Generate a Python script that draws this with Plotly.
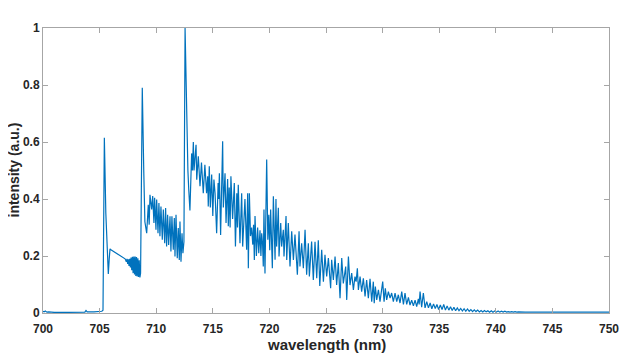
import plotly.graph_objects as go

# wavelength (nm) and normalised intensity
wavelength = [
    700.00, 700.10, 700.20, 700.35, 700.50, 701.00, 702.00, 703.00, 703.70, 703.80,
    703.90, 704.50, 705.20, 705.30, 705.42, 705.55, 705.70, 705.77, 705.85, 705.92,
    706.00, 706.30, 706.60, 706.90, 707.10, 707.25, 707.30, 707.36, 707.42, 707.48,
    707.54, 707.60, 707.66, 707.72, 707.78, 707.84, 707.90, 707.96, 708.02, 708.08,
    708.14, 708.20, 708.26, 708.32, 708.38, 708.44, 708.50, 708.56, 708.62, 708.77,
    708.90, 709.00, 709.16, 709.30, 709.38, 709.45, 709.60, 709.69, 709.80, 709.86,
    709.98, 710.04, 710.16, 710.24, 710.33, 710.42, 710.54, 710.63, 710.75, 710.83,
    710.92, 711.01, 711.10, 711.22, 711.30, 711.39, 711.51, 711.60, 711.66, 711.75,
    711.86, 711.95, 712.04, 712.10, 712.19, 712.28, 712.36, 712.45, 712.55, 712.70,
    712.80, 712.88, 712.98, 713.13, 713.20, 713.28, 713.34, 713.52, 713.58, 713.72,
    713.87, 714.00, 714.16, 714.30, 714.45, 714.55, 714.60, 714.69, 714.78, 714.90,
    715.00, 715.10, 715.20, 715.34, 715.47, 715.52, 715.58, 715.69, 715.87, 715.93,
    716.08, 716.17, 716.31, 716.37, 716.45, 716.53, 716.60, 716.75, 716.90, 717.00,
    717.12, 717.18, 717.25, 717.40, 717.55, 717.64, 717.84, 717.99, 718.08, 718.14,
    718.23, 718.33, 718.43, 718.53, 718.60, 718.67, 718.73, 718.85, 718.96, 719.06,
    719.17, 719.25, 719.32, 719.40, 719.46, 719.52, 719.61, 719.76, 719.86, 719.95,
    720.03, 720.11, 720.26, 720.35, 720.50, 720.58, 720.64, 720.79, 720.85, 721.00,
    721.08, 721.23, 721.29, 721.47, 721.53, 721.67, 721.82, 721.97, 722.12, 722.26,
    722.47, 722.62, 722.70, 722.85, 723.00, 723.15, 723.29, 723.44, 723.53, 723.73,
    723.88, 724.03, 724.18, 724.32, 724.45, 724.62, 724.77, 724.91, 725.06, 725.21,
    725.41, 725.50, 725.65, 725.80, 725.94, 726.09, 726.24, 726.39, 726.53, 726.74,
    726.83, 726.98, 727.12, 727.27, 727.42, 727.56, 727.66, 727.77, 727.86, 728.01,
    728.15, 728.30, 728.45, 728.59, 728.74, 728.89, 729.04, 729.18, 729.26, 729.36,
    729.48, 729.63, 729.77, 730.01, 730.13, 730.24, 730.36, 730.51, 730.66, 730.80,
    730.95, 731.10, 731.25, 731.39, 731.54, 731.69, 731.84, 731.98, 732.13, 732.28,
    732.42, 732.57, 732.72, 732.87, 733.01, 733.16, 733.23, 733.31, 733.45, 733.60,
    733.75, 733.90, 734.05, 734.20, 734.35, 734.50, 734.65, 734.80, 734.95, 735.10,
    735.25, 735.40, 735.55, 735.70, 735.85, 736.00, 736.15, 736.30, 736.45, 736.60,
    736.75, 736.90, 737.05, 737.20, 737.35, 737.50, 737.65, 737.80, 737.95, 738.10,
    738.25, 738.40, 738.55, 738.70, 738.85, 739.00, 739.15, 739.30, 739.45, 739.60,
    739.75, 739.90, 740.05, 740.20, 740.35, 740.50, 740.65, 740.80, 740.95, 741.10,
    741.25, 741.40, 741.55, 741.70, 741.85, 742.00, 742.20, 742.40, 742.60, 743.00,
    745.00, 748.00, 750.00,
]
intensity = [
    0.006, 0.004, 0.007, 0.003, 0.004, 0.002, 0.002, 0.002, 0.003, 0.009,
    0.004, 0.004, 0.006, 0.010, 0.615, 0.350, 0.160, 0.137, 0.190, 0.225,
    0.222, 0.215, 0.207, 0.200, 0.195, 0.190, 0.186, 0.180, 0.190, 0.172,
    0.188, 0.165, 0.190, 0.160, 0.195, 0.150, 0.197, 0.140, 0.198, 0.135,
    0.198, 0.130, 0.196, 0.128, 0.192, 0.126, 0.185, 0.125, 0.140, 0.790,
    0.500, 0.320, 0.280, 0.380, 0.310, 0.415, 0.363, 0.410, 0.316, 0.404,
    0.292, 0.398, 0.280, 0.386, 0.269, 0.374, 0.257, 0.363, 0.245, 0.368,
    0.233, 0.345, 0.239, 0.339, 0.216, 0.339, 0.222, 0.333, 0.198, 0.345,
    0.192, 0.298, 0.186, 0.321, 0.180, 0.280, 0.210, 0.250, 1.000, 0.650,
    0.500, 0.430, 0.360, 0.560, 0.500, 0.600, 0.500, 0.590, 0.468, 0.550,
    0.445, 0.528, 0.420, 0.520, 0.420, 0.480, 0.374, 0.515, 0.370, 0.486,
    0.340, 0.468, 0.420, 0.280, 0.456, 0.400, 0.490, 0.274, 0.603, 0.370,
    0.490, 0.316, 0.470, 0.304, 0.440, 0.300, 0.480, 0.330, 0.456, 0.233,
    0.420, 0.300, 0.450, 0.245, 0.420, 0.233, 0.400, 0.222, 0.420, 0.157,
    0.420, 0.270, 0.300, 0.240, 0.310, 0.186, 0.340, 0.200, 0.300, 0.210,
    0.290, 0.200, 0.280, 0.240, 0.163, 0.363, 0.139, 0.539, 0.257, 0.345,
    0.220, 0.363, 0.157, 0.410, 0.187, 0.400, 0.233, 0.369, 0.198, 0.316,
    0.233, 0.292, 0.198, 0.340, 0.186, 0.316, 0.163, 0.287, 0.186, 0.275,
    0.134, 0.287, 0.163, 0.245, 0.157, 0.292, 0.134, 0.245, 0.128, 0.251,
    0.116, 0.250, 0.122, 0.255, 0.095, 0.222, 0.110, 0.204, 0.128, 0.193,
    0.087, 0.187, 0.116, 0.198, 0.098, 0.175, 0.052, 0.193, 0.104, 0.163,
    0.046, 0.198, 0.098, 0.140, 0.081, 0.128, 0.110, 0.157, 0.081, 0.128,
    0.075, 0.122, 0.058, 0.116, 0.052, 0.120, 0.040, 0.110, 0.034, 0.093,
    0.046, 0.081, 0.040, 0.110, 0.040, 0.087, 0.046, 0.075, 0.052, 0.070,
    0.040, 0.070, 0.040, 0.064, 0.035, 0.075, 0.030, 0.070, 0.030, 0.055,
    0.028, 0.045, 0.025, 0.045, 0.022, 0.050, 0.030, 0.075, 0.020, 0.070,
    0.018, 0.040, 0.018, 0.035, 0.015, 0.032, 0.016, 0.030, 0.012, 0.028,
    0.012, 0.030, 0.010, 0.025, 0.010, 0.022, 0.009, 0.020, 0.008, 0.018,
    0.008, 0.016, 0.007, 0.015, 0.006, 0.014, 0.006, 0.012, 0.005, 0.011,
    0.005, 0.010, 0.004, 0.009, 0.004, 0.009, 0.004, 0.008, 0.003, 0.008,
    0.003, 0.007, 0.003, 0.007, 0.003, 0.006, 0.003, 0.006, 0.003, 0.005,
    0.003, 0.005, 0.003, 0.005, 0.003, 0.004, 0.003, 0.004, 0.003, 0.003,
    0.003, 0.003, 0.003,
]
x_ticks = [700, 705, 710, 715, 720, 725, 730, 735, 740, 745, 750]
y_ticks = [0, 0.2, 0.4, 0.6, 0.8, 1]
y_tick_labels = ["0", "0.2", "0.4", "0.6", "0.8", "1"]
x_title = "wavelength (nm)"
y_title = "intensity (a.u.)"

FONT = "Liberation Sans, Arial, sans-serif"
X_TITLE_FONT = dict(family=FONT, size=15, color="#262626", weight="bold")
Y_TITLE_FONT = dict(family=FONT, size=14, color="#262626", weight="bold")

fig = go.Figure()
fig.add_trace(go.Scatter(
    x=wavelength, y=intensity, mode="lines",
    line=dict(color="#0072BD", width=1.2),
    hoverinfo="skip", showlegend=False,
))

axis_common = dict(
    showgrid=False, zeroline=False, showline=True, mirror="allticks",
    linecolor="#a6a6a6", linewidth=1, ticks="inside", ticklen=5,
    tickcolor="#a6a6a6", tickwidth=1, automargin=False,
    tickfont=dict(family=FONT, size=12, color="#262626", weight="bold"),
)
fig.update_xaxes(range=[700, 750], tickvals=x_ticks, ticklabelstandoff=5,
                 **axis_common)
fig.update_yaxes(range=[0, 1], tickvals=y_ticks, ticktext=y_tick_labels,
                 **axis_common)

# axis titles placed relative to the plot area
fig.add_annotation(text=x_title, xref="paper", yref="paper", x=0.5, y=0,
                   xanchor="center", yanchor="middle", yshift=-31,
                   showarrow=False, font=X_TITLE_FONT)
fig.add_annotation(text=y_title, xref="paper", yref="paper", x=0, y=0.5,
                   xanchor="center", yanchor="middle", xshift=-30,
                   textangle=-90, showarrow=False, font=Y_TITLE_FONT)

# page body has an 8px margin, so the figure is offset by 8px
fig.update_layout(
    width=633, height=350,
    margin=dict(l=35, r=32, t=20, b=45, autoexpand=False),
    paper_bgcolor="white", plot_bgcolor="white",
)
fig.write_html("out.html")
